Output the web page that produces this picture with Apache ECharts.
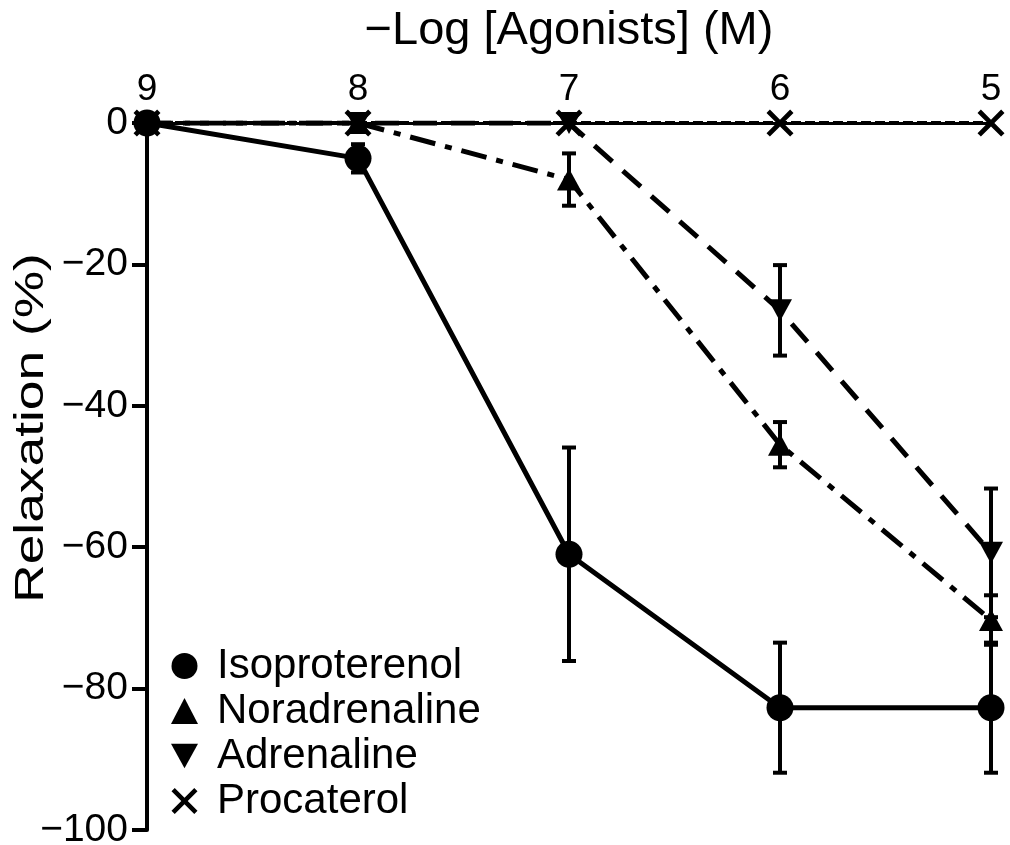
<!DOCTYPE html>
<html>
<head>
<meta charset="utf-8">
<script src="https://cdn.jsdelivr.net/npm/echarts@6/dist/echarts.min.js"></script>
<style>
  html, body { margin: 0; padding: 0; background: #fff; }
  #chart { width: 1010px; height: 845px; }
</style>
</head>
<body>
<div id="chart"></div>
<script>
// -log concentration (M)
var doses = [9, 8, 7, 6, 5];

// mean relaxation (%) and error
var isoMean = [0, -5, -61, -82.7, -82.7];
var isoErr = [0, 2, 15.1, 9.2, 9.2];
var noraMean = [0, 0, -8, -45.5, -70.3];
var noraErr = [0, 0, 3.7, 3.2, 3.5];
var adreMean = [0, 0, 0, -26.5, -60.8];
var adreErr = [0, 0, 0, 6.4, 9.1];
var procMean = [0, 0, 0, 0, 0];

var names = ['Isoproterenol', 'Noradrenaline', 'Adrenaline', 'Procaterol'];
var yTicks = [0, -20, -40, -60, -80, -100];

var font = "'Liberation Sans', Arial, sans-serif";
var crossPath = 'path://M0,2.5 L2.5,0 L10,7.5 L17.5,0 L20,2.5 L12.5,10 L20,17.5 L17.5,20 L10,12.5 L2.5,20 L0,17.5 L7.5,10 Z';
var downTri = 'path://M0,0 L20,0 L10,18 Z';

function pairs(means) {
  return doses.map(function (d, i) { return [d, means[i]]; });
}

function errData(means, errs) {
  var out = [];
  doses.forEach(function (d, i) {
    if (errs[i] > 0) out.push([d, means[i] - errs[i], means[i] + errs[i]]);
  });
  return out;
}

function errBarSeries(name, means, errs) {
  return {
    name: name + ' err',
    type: 'custom',
    z: 3,
    data: errData(means, errs),
    renderItem: function (params, api) {
      var lo = api.coord([api.value(0), api.value(1)]);
      var hi = api.coord([api.value(0), api.value(2)]);
      var w = 7;
      var st = { stroke: '#000', lineWidth: 4 };
      return {
        type: 'group',
        children: [
          { type: 'line', shape: { x1: lo[0], y1: lo[1], x2: hi[0], y2: hi[1] }, style: st },
          { type: 'line', shape: { x1: lo[0] - w, y1: lo[1], x2: lo[0] + w, y2: lo[1] }, style: st },
          { type: 'line', shape: { x1: hi[0] - w, y1: hi[1], x2: hi[0] + w, y2: hi[1] }, style: st }
        ]
      };
    }
  };
}

var myChart = echarts.init(document.getElementById('chart'));

var option = {
  backgroundColor: '#fff',
  animation: false,
  grid: { left: 147, right: 19, top: 123, bottom: 15, containLabel: false, outerBoundsMode: 'none' },
  // y axis title, stretched along its length like the original
  graphic: [{
    type: 'text',
    x: 32,
    y: 428,
    rotation: Math.PI / 2,
    scaleX: 1.3,
    style: {
      text: 'Relaxation (%)',
      font: '41px ' + font,
      fill: '#000',
      align: 'center',
      verticalAlign: 'middle'
    }
  }],
  xAxis: {
    type: 'value',
    position: 'top',
    inverse: true,
    min: 5,
    max: 9,
    interval: 1,
    name: '\u2212Log [Agonists] (M)',
    nameLocation: 'middle',
    nameGap: 68,
    nameTextStyle: { fontFamily: font, fontSize: 47, color: '#000' },
    axisLine: { show: true, lineStyle: { color: '#000', width: 3 } },
    axisTick: { show: false },
    splitLine: { show: false },
    axisLabel: { fontFamily: font, fontSize: 37, color: '#000', margin: 15 }
  },
  yAxis: {
    type: 'value',
    min: -100,
    max: 0,
    interval: 20,
    axisLine: { show: true, lineStyle: { color: '#000', width: 4 } },
    axisTick: { show: true, length: 15, lineStyle: { color: '#000', width: 4 } },
    splitLine: { show: false },
    axisLabel: {
      fontFamily: font, fontSize: 39, color: '#000', margin: 19,
      formatter: function (v) {
        if (yTicks.indexOf(v) < 0) return '';
        return v < 0 ? '\u2212' + Math.abs(v) : String(v);
      }
    }
  },
  legend: {
    orient: 'vertical',
    left: 166,
    top: 640,
    itemWidth: 27,
    itemHeight: 26,
    itemGap: 3,
    textStyle: { fontFamily: font, fontSize: 42, color: '#000', lineHeight: 42, padding: [0, 0, 0, 14] },
    itemStyle: { color: '#000', borderWidth: 0 },
    data: [
      { name: 'Isoproterenol', icon: 'circle' },
      { name: 'Noradrenaline', icon: 'triangle' },
      { name: 'Adrenaline', icon: downTri },
      { name: 'Procaterol', icon: crossPath }
    ]
  },
  series: [
    errBarSeries('Isoproterenol', isoMean, isoErr),
    errBarSeries('Noradrenaline', noraMean, noraErr),
    errBarSeries('Adrenaline', adreMean, adreErr),
    {
      name: 'Procaterol',
      type: 'line',
      z: 4,
      data: pairs(procMean),
      symbol: crossPath,
      symbolSize: 27,
      itemStyle: { color: '#000' },
      lineStyle: { color: '#000', width: 4, type: [10, 4] }
    },
    {
      name: 'Adrenaline',
      type: 'line',
      z: 5,
      data: pairs(adreMean),
      symbol: downTri,
      symbolSize: [24, 22],
      itemStyle: { color: '#000' },
      lineStyle: { color: '#000', width: 5, type: [24, 14] }
    },
    {
      name: 'Noradrenaline',
      type: 'line',
      z: 6,
      data: pairs(noraMean),
      symbol: 'triangle',
      symbolSize: [24, 22],
      itemStyle: { color: '#000' },
      lineStyle: { color: '#000', width: 5, type: [26, 10, 7, 10] }
    },
    {
      name: 'Isoproterenol',
      type: 'line',
      z: 7,
      data: pairs(isoMean),
      symbol: 'circle',
      symbolSize: 27,
      itemStyle: { color: '#000' },
      lineStyle: { color: '#000', width: 5 }
    }
  ]
};

myChart.setOption(option);
</script>
</body>
</html>
